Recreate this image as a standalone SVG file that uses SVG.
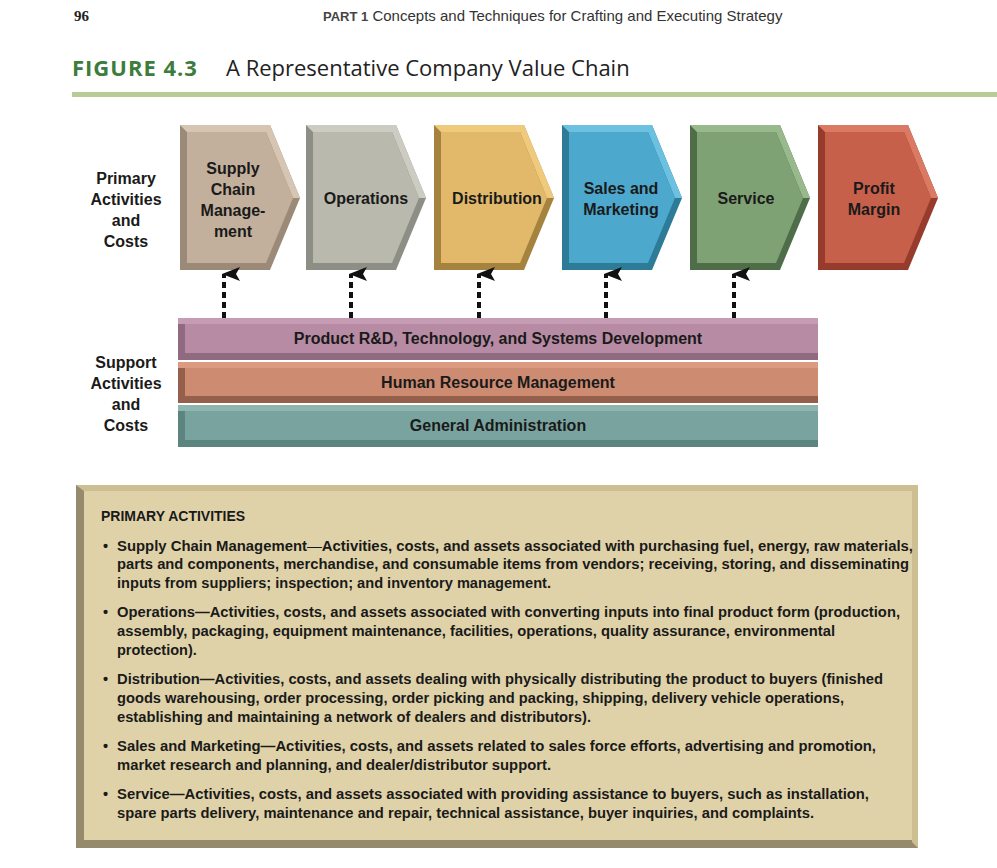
<svg xmlns="http://www.w3.org/2000/svg" width="997" height="868" viewBox="0 0 997 868">
<style>
.t{font-family:"Liberation Sans",Arial,sans-serif;font-weight:bold;fill:#1a1a1a}
.c{text-anchor:middle;font-size:16px}
.b{font-size:14.5px}
.n{font-weight:normal}
</style>
<defs>
<marker id="ah" markerWidth="16" markerHeight="18" refX="8" refY="2" orient="auto" markerUnits="userSpaceOnUse" viewBox="0 0 16 18"><path d="M8 0 L15 18 L8 14 L1 18 Z" fill="#111"/></marker>
</defs>
<rect width="997" height="868" fill="#fff"/>
<text x="74" y="21" font-family="Liberation Serif,serif" font-weight="bold" font-size="15" fill="#222">96</text>
<text x="323" y="21" font-family="Liberation Sans,sans-serif" font-size="15" fill="#333"><tspan font-size="13" font-weight="bold" fill="#444">PART 1</tspan>  Concepts and Techniques for Crafting and Executing Strategy</text>
<text x="72" y="76" font-family="Open Sans,Liberation Sans,sans-serif" font-size="22" font-weight="bold" fill="#3d7c3c" letter-spacing="1">FIGURE 4.3</text>
<text x="226" y="76" font-family="Open Sans,Liberation Sans,sans-serif" font-size="22" fill="#222">A Representative Company Value Chain</text>
<rect x="72" y="92" width="925" height="5" fill="#b9cc98"/>

<g class="t" font-size="16" text-anchor="middle">
<text x="126" y="184">Primary</text><text x="126" y="205">Activities</text><text x="126" y="226">and</text><text x="126" y="247">Costs</text>
<text x="126" y="368">Support</text><text x="126" y="389">Activities</text><text x="126" y="410">and</text><text x="126" y="431">Costs</text>
</g>

<g id="supply"><polygon points="180,125 270,125 300,198 270,270 180,270" fill="#9b8a78"/><polygon points="180,125 270,125 300,198 293,198 266,132 187,132" fill="#d5c5b2"/><polygon points="187,132 266,132 293,198 266,263 187,263" fill="#c2b09c"/>
<text class="t c" x="233" y="174">Supply</text><text class="t c" x="233" y="195">Chain</text><text class="t c" x="233" y="216">Manage-</text><text class="t c" x="233" y="237">ment</text></g>
<g id="operations"><polygon points="306,125 396,125 426,198 396,270 306,270" fill="#8d8e86"/><polygon points="306,125 396,125 426,198 419,198 392,132 313,132" fill="#ccccc2"/><polygon points="313,132 392,132 419,198 392,263 313,263" fill="#b9b9ae"/>
<text class="t c" x="366" y="204">Operations</text></g>
<g id="distribution"><polygon points="434,125 524,125 554,198 524,270 434,270" fill="#a6823f"/><polygon points="434,125 524,125 554,198 547,198 520,132 441,132" fill="#f0ca7c"/><polygon points="441,132 520,132 547,198 520,263 441,263" fill="#e2b96b"/>
<text class="t c" x="497" y="204">Distribution</text></g>
<g id="sales"><polygon points="562,125 652,125 682,198 652,270 562,270" fill="#2d7b97"/><polygon points="562,125 652,125 682,198 675,198 648,132 569,132" fill="#6cc0e0"/><polygon points="569,132 648,132 675,198 648,263 569,263" fill="#4da8cd"/>
<text class="t c" x="621" y="194">Sales and</text><text class="t c" x="621" y="215">Marketing</text></g>
<g id="service"><polygon points="690,125 780,125 810,198 780,270 690,270" fill="#4f6d48"/><polygon points="690,125 780,125 810,198 803,198 776,132 697,132" fill="#98b98c"/><polygon points="697,132 776,132 803,198 776,263 697,263" fill="#7fa274"/>
<text class="t c" x="746" y="204">Service</text></g>
<g id="profit"><polygon points="818,125 908,125 938,198 908,270 818,270" fill="#973c2d"/><polygon points="818,125 908,125 938,198 931,198 904,132 825,132" fill="#da7a63"/><polygon points="825,132 904,132 931,198 904,263 825,263" fill="#c7604a"/>
<text class="t c" x="874" y="194">Profit</text><text class="t c" x="874" y="215">Margin</text></g>

<g id="connectors" stroke="#111" stroke-width="4" stroke-dasharray="6,4" fill="none">
<line x1="224" y1="318" x2="224" y2="274" marker-end="url(#ah)"/>
<line x1="351" y1="318" x2="351" y2="274" marker-end="url(#ah)"/>
<line x1="479" y1="318" x2="479" y2="274" marker-end="url(#ah)"/>
<line x1="606" y1="318" x2="606" y2="274" marker-end="url(#ah)"/>
<line x1="734" y1="318" x2="734" y2="274" marker-end="url(#ah)"/>
</g>

<g id="rd"><rect x="178" y="318" width="640" height="42" fill="#8f6a80"/><rect x="178" y="318" width="640" height="6" fill="#c59cb3"/><rect x="185" y="324" width="633" height="29" fill="#b78ba3"/>
<text class="t c" x="498" y="344">Product R&amp;D, Technology, and Systems Development</text></g>
<g id="hr"><rect x="178" y="362" width="640" height="41" fill="#945f4b"/><rect x="178" y="362" width="640" height="6" fill="#dc9a80"/><rect x="185" y="368" width="633" height="28" fill="#cd8b72"/>
<text class="t c" x="498" y="388">Human Resource Management</text></g>
<g id="ga"><rect x="178" y="405" width="640" height="42" fill="#5d8580"/><rect x="178" y="405" width="640" height="6" fill="#8fb5b0"/><rect x="185" y="411" width="633" height="29" fill="#79a39e"/>
<text class="t c" x="498" y="431">General Administration</text></g>

<g id="textbox"><rect x="76" y="485" width="842" height="363" fill="#958a6c"/><rect x="84" y="485" width="834" height="355" fill="#e0d2a8"/><polygon points="76,485 918,485 918,848 912,842 912,491 84,491" fill="#cdbf92"/><rect x="84" y="491" width="828" height="349" fill="#e0d2a8"/></g>
<g class="t b">
<text x="101" y="521" font-size="14">PRIMARY ACTIVITIES</text>
<text x="103" y="551">•</text><text x="103" y="617">•</text><text x="103" y="684">•</text><text x="103" y="751">•</text><text x="103" y="799">•</text>
<text x="117" y="551" textLength="796" lengthAdjust="spacingAndGlyphs">Supply Chain Management<tspan class="n">—</tspan>Activities, costs, and assets associated with purchasing fuel, energy, raw materials,</text>
<text x="117" y="569" textLength="792" lengthAdjust="spacingAndGlyphs">parts and components, merchandise, and consumable items from vendors; receiving, storing, and disseminating</text>
<text x="117" y="588" textLength="434" lengthAdjust="spacingAndGlyphs">inputs from suppliers; inspection; and inventory management.</text>
<text x="117" y="617" textLength="783" lengthAdjust="spacingAndGlyphs">Operations—Activities, costs, and assets associated with converting inputs into final product form (production,</text>
<text x="117" y="636" textLength="718" lengthAdjust="spacingAndGlyphs">assembly, packaging, equipment maintenance, facilities, operations, quality assurance, environmental</text>
<text x="117" y="655">protection).</text>
<text x="117" y="684" textLength="766" lengthAdjust="spacingAndGlyphs">Distribution—Activities, costs, and assets dealing with physically distributing the product to buyers (finished</text>
<text x="117" y="703" textLength="727" lengthAdjust="spacingAndGlyphs">goods warehousing, order processing, order picking and packing, shipping, delivery vehicle operations,</text>
<text x="117" y="722" textLength="474" lengthAdjust="spacingAndGlyphs">establishing and maintaining a network of dealers and distributors).</text>
<text x="117" y="751" textLength="759" lengthAdjust="spacingAndGlyphs">Sales and Marketing—Activities, costs, and assets related to sales force efforts, advertising and promotion,</text>
<text x="117" y="770" textLength="434" lengthAdjust="spacingAndGlyphs">market research and planning, and dealer/distributor support.</text>
<text x="117" y="799" textLength="752" lengthAdjust="spacingAndGlyphs">Service—Activities, costs, and assets associated with providing assistance to buyers, such as installation,</text>
<text x="117" y="818" textLength="697" lengthAdjust="spacingAndGlyphs">spare parts delivery, maintenance and repair, technical assistance, buyer inquiries, and complaints.</text>
</g>
</svg>
